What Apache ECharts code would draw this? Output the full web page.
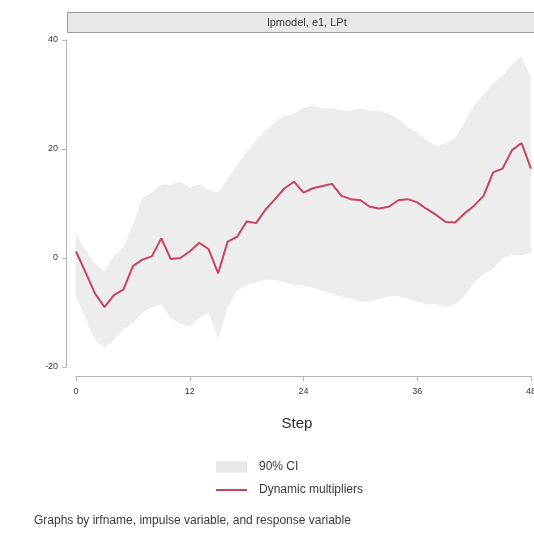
<!DOCTYPE html>
<html>
<head>
<meta charset="utf-8">
<script src="https://cdn.jsdelivr.net/npm/echarts@6/dist/echarts.min.js"></script>
<style>
  html, body { margin: 0; padding: 0; background: #ffffff; }
  #chart { width: 534px; height: 533px; }
</style>
</head>
<body>
<div id="chart"></div>
<script>
// Horizon (step) of the local-projection impulse response
const steps = [
  0, 1, 2, 3, 4, 5, 6, 7, 8, 9, 10, 11, 12, 13, 14, 15, 16,
  17, 18, 19, 20, 21, 22, 23, 24, 25, 26, 27, 28, 29, 30, 31, 32,
  33, 34, 35, 36, 37, 38, 39, 40, 41, 42, 43, 44, 45, 46, 47, 48
];

// Dynamic multipliers (point estimates)
const multipliers = [
  1.2, -2.6, -6.5, -9.0, -6.8, -5.8, -1.5, -0.3, 0.3, 3.6, -0.2, 0.0, 1.2,
  2.8, 1.6, -2.8, 3.0, 3.9, 6.7, 6.4, 8.9, 10.8, 12.8, 14.0, 12.0, 12.8,
  13.2, 13.6, 11.4, 10.8, 10.6, 9.4, 9.1, 9.4, 10.6, 10.8, 10.2, 9.0,
  7.9, 6.6, 6.5, 8.2, 9.6, 11.4, 15.7, 16.4, 19.8, 21.1, 16.4
];

// 90% confidence band
const ciLower = [
  -7.0, -11.0, -15.0, -16.5, -15.0, -13.0, -12.0, -10.0, -9.0, -8.5, -11.0, -12.0, -12.5,
  -11.0, -10.0, -15.0, -9.0, -6.0, -5.0, -4.5, -4.0, -4.0, -4.5, -5.0, -5.0, -5.5,
  -6.0, -6.5, -7.0, -7.5, -8.0, -8.0, -7.5, -7.0, -7.0, -7.5, -8.0, -8.5,
  -8.5, -9.0, -8.5, -7.0, -4.5, -3.0, -2.0, 0.0, 0.5, 0.5, 1.0
];
const ciUpper = [
  4.5, 1.5, -1.0, -2.5, 0.5, 2.0, 6.0, 11.0, 12.0, 13.5, 13.5, 14.0, 13.0,
  13.5, 12.5, 12.0, 14.5, 17.0, 19.5, 21.5, 23.5, 25.0, 26.0, 26.5, 27.5, 28.0,
  27.5, 27.5, 27.0, 27.0, 27.5, 27.0, 27.0, 26.5, 25.5, 24.0, 23.0, 21.5,
  20.5, 21.0, 22.0, 25.0, 28.0, 30.0, 32.0, 33.5, 35.5, 37.0, 33.0
];

// Axis ticks
const xTicks = [0, 12, 24, 36, 48];
const yTicks = [-20, 0, 20, 40];

const panelTitle = 'lpmodel, e1, LPt';
const xTitle = 'Step';
const noteText = 'Graphs by irfname, impulse variable, and response variable';

const bandRows = steps.map((s, i) => [s, ciLower[i], ciUpper[i]]);
const linePts = steps.map((s, i) => [s, multipliers[i]]);

const axisGray = '#b4b4b4';
const textGray = '#3a3a3a';
const bandGray = '#ededed';
const lineRed = '#c8435f';
const font = 'Liberation Sans, Arial, sans-serif';

// Whole confidence band as one polygon: upper edge left-to-right, lower edge back
function renderBand(params, api) {
  if (params.dataIndex !== 0) return null;
  const upper = bandRows.map(r => api.coord([r[0], r[2]]));
  const lower = bandRows.slice().reverse().map(r => api.coord([r[0], r[1]]));
  return {
    type: 'polygon',
    shape: { points: upper.concat(lower) },
    style: { fill: bandGray, stroke: null }
  };
}

const chart = echarts.init(document.getElementById('chart'), null, { renderer: 'canvas' });

chart.setOption({
  backgroundColor: '#ffffff',
  animation: false,
  grid: { left: 76, right: 3, top: 40, bottom: 166, outerBoundsMode: 'none', containLabel: false },
  xAxis: {
    type: 'value',
    min: xTicks[0],
    max: xTicks[xTicks.length - 1],
    interval: xTicks[1] - xTicks[0],
    offset: 9,
    axisLine: { show: true, onZero: false, lineStyle: { color: axisGray, width: 1 } },
    axisTick: { show: true, length: 5, lineStyle: { color: axisGray } },
    axisLabel: { margin: 11, fontSize: 9, color: textGray, fontFamily: font },
    splitLine: { show: false }
  },
  yAxis: {
    type: 'value',
    min: yTicks[0],
    max: yTicks[yTicks.length - 1],
    interval: yTicks[1] - yTicks[0],
    offset: 10,
    axisLine: { show: true, onZero: false, lineStyle: { color: axisGray, width: 1 } },
    axisTick: { show: true, length: 4, lineStyle: { color: axisGray } },
    axisLabel: { margin: 8, fontSize: 9, color: textGray, fontFamily: font },
    splitLine: { show: false }
  },
  legend: {
    orient: 'vertical',
    left: 211,
    top: 456,
    itemWidth: 31,
    itemHeight: 11,
    itemGap: 11,
    symbolKeepAspect: true,
    selectedMode: false,
    textStyle: { fontSize: 12, color: textGray, fontFamily: font, padding: [0, 0, 0, 7] },
    data: [
      { name: '90% CI', icon: 'rect', itemStyle: { color: '#e8e8e8' } },
      { name: 'Dynamic multipliers', icon: 'path://M0,0 H31 V2 H0 Z', itemStyle: { color: lineRed } }
    ]
  },
  series: [
    {
      name: '90% CI',
      type: 'custom',
      data: bandRows,
      encode: { x: 0, y: [1, 2] },
      renderItem: renderBand,
      itemStyle: { color: '#e8e8e8' },
      silent: true,
      clip: true,
      z: 1
    },
    {
      name: 'Dynamic multipliers',
      type: 'line',
      data: linePts,
      symbol: 'none',
      showSymbol: false,
      itemStyle: { color: lineRed },
      lineStyle: { color: lineRed, width: 2 },
      z: 3
    }
  ],
  graphic: [
    {
      type: 'rect',
      shape: { x: 67.5, y: 12.5, width: 480, height: 20 },
      style: { fill: '#e8e8e8', stroke: '#9c9c9c', lineWidth: 1 },
      z: 10
    },
    {
      type: 'text',
      x: 307, y: 22.5,
      style: {
        text: panelTitle, fill: textGray, fontSize: 11, fontFamily: font,
        align: 'center', verticalAlign: 'middle'
      },
      z: 11
    },
    {
      type: 'text',
      x: 297, y: 424,
      style: {
        text: xTitle, fill: '#2a2a2a', fontSize: 15, fontFamily: font,
        align: 'center', verticalAlign: 'middle'
      }
    },
    {
      type: 'text',
      x: 34, y: 521,
      style: {
        text: noteText, fill: textGray, fontSize: 12, fontFamily: font,
        align: 'left', verticalAlign: 'middle'
      }
    }
  ]
});
</script>
</body>
</html>
